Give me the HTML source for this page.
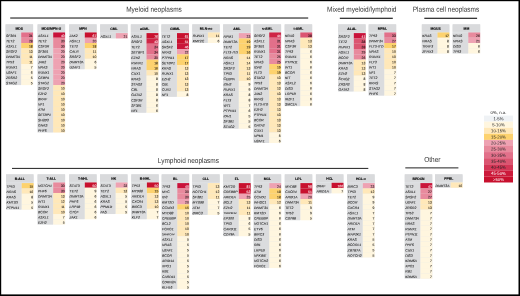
<!DOCTYPE html>
<html lang="en"><head><meta charset="utf-8"><title>Mutation frequencies across hematologic neoplasms</title>
<style>
html,body{margin:0;padding:0;background:#000;}
body{width:520px;height:296px;overflow:hidden;}
svg{display:block;position:absolute;left:0;top:0;}
text{font-family:"Liberation Sans",sans-serif;fill:#222;text-rendering:geometricPrecision;}
.T{font-size:7.35px;text-anchor:middle;fill:#333;}
.h{font-size:3.4px;font-weight:bold;text-anchor:middle;fill:#000;stroke:#000;stroke-width:.12px;}
.g{font-size:3.4px;font-style:italic;fill:#111;stroke:#111;stroke-width:.05px;}
.v{font-size:3.4px;text-anchor:end;fill:#111;stroke:#111;stroke-width:.06px;}
.l{font-size:4.3px;text-anchor:middle;fill:#222;stroke-width:0;}
.w{fill:#fff;stroke:#fff;}
</style></head><body>
<svg width="520" height="296" viewBox="0 0 520 296">
<rect x="1.20" y="1.20" width="517.30" height="293.20" fill="#ffffff"/>
<rect x="10.20" y="17.40" width="298.00" height="1.25" fill="#3a3a3a"/>
<rect x="339.80" y="17.70" width="53.00" height="1.20" fill="#222"/>
<rect x="424.30" y="17.70" width="52.80" height="1.20" fill="#222"/>
<rect x="12.00" y="167.90" width="356.30" height="1.00" fill="#222"/>
<rect x="405.30" y="167.20" width="53.10" height="1.30" fill="#555"/>
<rect x="5.50" y="25.15" width="27.60" height="59.65" fill="#e3e6e9"/>
<rect x="5.50" y="24.15" width="27.60" height="7.70" fill="#d9dadc"/>
<rect x="5.50" y="32.45" width="15.50" height="52.65" fill="#dbdcde"/>
<rect x="21.20" y="32.45" width="11.90" height="5.28" fill="#e2708a"/>
<rect x="21.20" y="37.72" width="11.90" height="5.28" fill="#e88a9d"/>
<rect x="21.20" y="42.98" width="11.90" height="5.28" fill="#fdd26e"/>
<rect x="21.20" y="48.25" width="11.90" height="5.28" fill="#ffe8b9"/>
<rect x="21.20" y="53.51" width="11.90" height="5.28" fill="#ffe8b9"/>
<rect x="21.20" y="58.78" width="11.90" height="5.28" fill="#ffe8b9"/>
<rect x="21.20" y="64.04" width="11.90" height="5.28" fill="#fff6df"/>
<rect x="21.20" y="69.31" width="11.90" height="5.28" fill="#fff6df"/>
<rect x="21.20" y="74.57" width="11.90" height="5.28" fill="#fff6df"/>
<rect x="21.20" y="79.84" width="11.90" height="5.28" fill="#fff6df"/>
<rect x="37.50" y="25.15" width="27.60" height="107.03" fill="#e3e6e9"/>
<rect x="37.50" y="24.15" width="27.60" height="7.70" fill="#d9dadc"/>
<rect x="37.50" y="32.45" width="15.50" height="100.03" fill="#dbdcde"/>
<rect x="53.20" y="32.45" width="11.90" height="5.28" fill="#c9123a"/>
<rect x="53.20" y="37.72" width="11.90" height="5.28" fill="#e88a9d"/>
<rect x="53.20" y="42.98" width="11.90" height="5.28" fill="#e88a9d"/>
<rect x="53.20" y="48.25" width="11.90" height="5.28" fill="#eea2b2"/>
<rect x="53.20" y="53.51" width="11.90" height="5.28" fill="#eea2b2"/>
<rect x="53.20" y="58.78" width="11.90" height="5.28" fill="#eea2b2"/>
<rect x="53.20" y="64.04" width="11.90" height="5.28" fill="#eea2b2"/>
<rect x="53.20" y="69.31" width="11.90" height="5.28" fill="#eea2b2"/>
<rect x="53.20" y="74.57" width="11.90" height="5.28" fill="#eea2b2"/>
<rect x="53.20" y="79.84" width="11.90" height="5.28" fill="#eea2b2"/>
<rect x="53.20" y="85.10" width="11.90" height="5.28" fill="#ffe8b9"/>
<rect x="53.20" y="90.37" width="11.90" height="5.28" fill="#ffe8b9"/>
<rect x="53.20" y="95.63" width="11.90" height="5.28" fill="#ffe8b9"/>
<rect x="53.20" y="100.89" width="11.90" height="5.28" fill="#ffe8b9"/>
<rect x="53.20" y="106.16" width="11.90" height="5.28" fill="#ffe8b9"/>
<rect x="53.20" y="111.42" width="11.90" height="5.28" fill="#ffe8b9"/>
<rect x="53.20" y="116.69" width="11.90" height="5.28" fill="#ffe8b9"/>
<rect x="53.20" y="121.95" width="11.90" height="5.28" fill="#ffe8b9"/>
<rect x="53.20" y="127.22" width="11.90" height="5.28" fill="#ffe8b9"/>
<rect x="69.10" y="25.15" width="27.60" height="43.86" fill="#e3e6e9"/>
<rect x="69.10" y="24.15" width="27.60" height="7.70" fill="#d9dadc"/>
<rect x="69.10" y="32.45" width="15.50" height="36.85" fill="#dbdcde"/>
<rect x="84.80" y="32.45" width="11.90" height="5.28" fill="#c8102e"/>
<rect x="84.80" y="37.72" width="11.90" height="5.28" fill="#eea2b2"/>
<rect x="84.80" y="42.98" width="11.90" height="5.28" fill="#fdd26e"/>
<rect x="84.80" y="48.25" width="11.90" height="5.28" fill="#ffe8b9"/>
<rect x="84.80" y="53.51" width="11.90" height="5.28" fill="#ffe8b9"/>
<rect x="84.80" y="58.78" width="11.90" height="5.28" fill="#fff6df"/>
<rect x="84.80" y="64.04" width="11.90" height="5.28" fill="#fff6df"/>
<rect x="100.10" y="25.15" width="27.60" height="12.96" fill="#e3e6e9"/>
<rect x="100.10" y="24.15" width="27.60" height="8.40" fill="#d9dadc"/>
<rect x="100.10" y="33.10" width="15.50" height="5.31" fill="#dbdcde"/>
<rect x="115.80" y="33.10" width="11.90" height="5.33" fill="#eea2b2"/>
<rect x="130.80" y="25.15" width="27.60" height="87.30" fill="#e3e6e9"/>
<rect x="130.80" y="24.15" width="27.60" height="8.40" fill="#d9dadc"/>
<rect x="130.80" y="33.10" width="15.50" height="79.65" fill="#dbdcde"/>
<rect x="146.50" y="33.10" width="11.90" height="5.33" fill="#c8102e"/>
<rect x="146.50" y="38.41" width="11.90" height="5.33" fill="#cf2546"/>
<rect x="146.50" y="43.72" width="11.90" height="5.33" fill="#e2708a"/>
<rect x="146.50" y="49.03" width="11.90" height="5.33" fill="#e2708a"/>
<rect x="146.50" y="54.34" width="11.90" height="5.33" fill="#e88a9d"/>
<rect x="146.50" y="59.65" width="11.90" height="5.33" fill="#fdd26e"/>
<rect x="146.50" y="64.96" width="11.90" height="5.33" fill="#fdd26e"/>
<rect x="146.50" y="70.27" width="11.90" height="5.33" fill="#ffe8b9"/>
<rect x="146.50" y="75.58" width="11.90" height="5.33" fill="#fff6df"/>
<rect x="146.50" y="80.89" width="11.90" height="5.33" fill="#fff6df"/>
<rect x="146.50" y="86.20" width="11.90" height="5.33" fill="#fff6df"/>
<rect x="146.50" y="91.51" width="11.90" height="5.33" fill="#fff6df"/>
<rect x="146.50" y="96.82" width="11.90" height="5.33" fill="#fff6df"/>
<rect x="146.50" y="102.13" width="11.90" height="5.33" fill="#fff6df"/>
<rect x="146.50" y="107.44" width="11.90" height="5.33" fill="#fff6df"/>
<rect x="161.30" y="25.15" width="27.60" height="71.37" fill="#e3e6e9"/>
<rect x="161.30" y="24.15" width="27.60" height="8.40" fill="#d9dadc"/>
<rect x="161.30" y="33.10" width="15.50" height="63.72" fill="#dbdcde"/>
<rect x="177.00" y="33.10" width="11.90" height="5.33" fill="#c8102e"/>
<rect x="177.00" y="38.41" width="11.90" height="5.33" fill="#c8102e"/>
<rect x="177.00" y="43.72" width="11.90" height="5.33" fill="#ca153a"/>
<rect x="177.00" y="49.03" width="11.90" height="5.33" fill="#eea2b2"/>
<rect x="177.00" y="54.34" width="11.90" height="5.33" fill="#fdd26e"/>
<rect x="177.00" y="59.65" width="11.90" height="5.33" fill="#fdd26e"/>
<rect x="177.00" y="64.96" width="11.90" height="5.33" fill="#ffe8b9"/>
<rect x="177.00" y="70.27" width="11.90" height="5.33" fill="#ffe8b9"/>
<rect x="177.00" y="75.58" width="11.90" height="5.33" fill="#ffe8b9"/>
<rect x="177.00" y="80.89" width="11.90" height="5.33" fill="#ffe8b9"/>
<rect x="177.00" y="86.20" width="11.90" height="5.33" fill="#ffe8b9"/>
<rect x="177.00" y="91.51" width="11.90" height="5.33" fill="#fff6df"/>
<rect x="192.20" y="25.15" width="27.60" height="17.53" fill="#e3e6e9"/>
<rect x="192.20" y="24.15" width="27.60" height="7.70" fill="#d9dadc"/>
<rect x="192.20" y="32.45" width="15.50" height="10.53" fill="#dbdcde"/>
<rect x="207.90" y="32.45" width="11.90" height="5.28" fill="#ffe8b9"/>
<rect x="207.90" y="37.72" width="11.90" height="5.28" fill="#fff6df"/>
<rect x="223.10" y="25.15" width="27.60" height="103.23" fill="#e3e6e9"/>
<rect x="223.10" y="24.15" width="27.60" height="8.40" fill="#d9dadc"/>
<rect x="223.10" y="33.10" width="15.50" height="95.58" fill="#dbdcde"/>
<rect x="238.80" y="33.10" width="11.90" height="5.33" fill="#eea2b2"/>
<rect x="238.80" y="38.41" width="11.90" height="5.33" fill="#fdd26e"/>
<rect x="238.80" y="43.72" width="11.90" height="5.33" fill="#fdd26e"/>
<rect x="238.80" y="49.03" width="11.90" height="5.33" fill="#fdd26e"/>
<rect x="238.80" y="54.34" width="11.90" height="5.33" fill="#ffe8b9"/>
<rect x="238.80" y="59.65" width="11.90" height="5.33" fill="#ffe8b9"/>
<rect x="238.80" y="64.96" width="11.90" height="5.33" fill="#ffe8b9"/>
<rect x="238.80" y="70.27" width="11.90" height="5.33" fill="#ffe8b9"/>
<rect x="238.80" y="75.58" width="11.90" height="5.33" fill="#ffe8b9"/>
<rect x="238.80" y="80.89" width="11.90" height="5.33" fill="#fff6df"/>
<rect x="238.80" y="86.20" width="11.90" height="5.33" fill="#fff6df"/>
<rect x="238.80" y="91.51" width="11.90" height="5.33" fill="#fff6df"/>
<rect x="238.80" y="96.82" width="11.90" height="5.33" fill="#fff6df"/>
<rect x="238.80" y="102.13" width="11.90" height="5.33" fill="#fff6df"/>
<rect x="238.80" y="107.44" width="11.90" height="5.33" fill="#fff6df"/>
<rect x="238.80" y="112.75" width="11.90" height="5.33" fill="#fff6df"/>
<rect x="238.80" y="118.06" width="11.90" height="5.33" fill="#fff6df"/>
<rect x="238.80" y="123.37" width="11.90" height="5.33" fill="#fff6df"/>
<rect x="253.50" y="25.15" width="27.60" height="117.56" fill="#e3e6e9"/>
<rect x="253.50" y="24.15" width="27.60" height="7.70" fill="#d9dadc"/>
<rect x="253.50" y="32.45" width="15.50" height="110.56" fill="#dbdcde"/>
<rect x="269.20" y="32.45" width="11.90" height="5.28" fill="#cf2546"/>
<rect x="269.20" y="37.72" width="11.90" height="5.28" fill="#e2708a"/>
<rect x="269.20" y="42.98" width="11.90" height="5.28" fill="#e2708a"/>
<rect x="269.20" y="48.25" width="11.90" height="5.28" fill="#e2708a"/>
<rect x="269.20" y="53.51" width="11.90" height="5.28" fill="#e88a9d"/>
<rect x="269.20" y="58.78" width="11.90" height="5.28" fill="#e88a9d"/>
<rect x="269.20" y="64.04" width="11.90" height="5.28" fill="#fdd26e"/>
<rect x="269.20" y="69.31" width="11.90" height="5.28" fill="#fdd26e"/>
<rect x="269.20" y="74.57" width="11.90" height="5.28" fill="#ffe8b9"/>
<rect x="269.20" y="79.84" width="11.90" height="5.28" fill="#ffe8b9"/>
<rect x="269.20" y="85.10" width="11.90" height="5.28" fill="#ffe8b9"/>
<rect x="269.20" y="90.37" width="11.90" height="5.28" fill="#ffe8b9"/>
<rect x="269.20" y="95.63" width="11.90" height="5.28" fill="#ffe8b9"/>
<rect x="269.20" y="100.89" width="11.90" height="5.28" fill="#ffe8b9"/>
<rect x="269.20" y="106.16" width="11.90" height="5.28" fill="#ffe8b9"/>
<rect x="269.20" y="111.42" width="11.90" height="5.28" fill="#ffe8b9"/>
<rect x="269.20" y="116.69" width="11.90" height="5.28" fill="#ffe8b9"/>
<rect x="269.20" y="121.95" width="11.90" height="5.28" fill="#ffe8b9"/>
<rect x="269.20" y="127.22" width="11.90" height="5.28" fill="#ffe8b9"/>
<rect x="269.20" y="132.49" width="11.90" height="5.28" fill="#fff6df"/>
<rect x="269.20" y="137.75" width="11.90" height="5.28" fill="#fff6df"/>
<rect x="284.60" y="25.15" width="27.60" height="80.71" fill="#e3e6e9"/>
<rect x="284.60" y="24.15" width="27.60" height="7.70" fill="#d9dadc"/>
<rect x="284.60" y="32.45" width="15.50" height="73.71" fill="#dbdcde"/>
<rect x="300.30" y="32.45" width="11.90" height="5.28" fill="#db5571"/>
<rect x="300.30" y="37.72" width="11.90" height="5.28" fill="#ffe8b9"/>
<rect x="300.30" y="42.98" width="11.90" height="5.28" fill="#ffe8b9"/>
<rect x="300.30" y="48.25" width="11.90" height="5.28" fill="#fff6df"/>
<rect x="300.30" y="53.51" width="11.90" height="5.28" fill="#fff6df"/>
<rect x="300.30" y="58.78" width="11.90" height="5.28" fill="#fff6df"/>
<rect x="300.30" y="64.04" width="11.90" height="5.28" fill="#fff6df"/>
<rect x="300.30" y="69.31" width="11.90" height="5.28" fill="#fff6df"/>
<rect x="300.30" y="74.57" width="11.90" height="5.28" fill="#fff6df"/>
<rect x="300.30" y="79.84" width="11.90" height="5.28" fill="#fff6df"/>
<rect x="300.30" y="85.10" width="11.90" height="5.28" fill="#fff6df"/>
<rect x="300.30" y="90.37" width="11.90" height="5.28" fill="#fff6df"/>
<rect x="300.30" y="95.63" width="11.90" height="5.28" fill="#fff6df"/>
<rect x="300.30" y="100.89" width="11.90" height="5.28" fill="#fff6df"/>
<rect x="338.10" y="25.15" width="27.60" height="66.06" fill="#e3e6e9"/>
<rect x="338.10" y="24.15" width="27.60" height="8.40" fill="#d9dadc"/>
<rect x="338.10" y="33.10" width="15.50" height="58.41" fill="#dbdcde"/>
<rect x="353.80" y="33.10" width="11.90" height="5.33" fill="#c9123a"/>
<rect x="353.80" y="38.41" width="11.90" height="5.33" fill="#db5571"/>
<rect x="353.80" y="43.72" width="11.90" height="5.33" fill="#db5571"/>
<rect x="353.80" y="49.03" width="11.90" height="5.33" fill="#e88a9d"/>
<rect x="353.80" y="54.34" width="11.90" height="5.33" fill="#e88a9d"/>
<rect x="353.80" y="59.65" width="11.90" height="5.33" fill="#ffe8b9"/>
<rect x="353.80" y="64.96" width="11.90" height="5.33" fill="#ffe8b9"/>
<rect x="353.80" y="70.27" width="11.90" height="5.33" fill="#ffe8b9"/>
<rect x="353.80" y="75.58" width="11.90" height="5.33" fill="#fff6df"/>
<rect x="353.80" y="80.89" width="11.90" height="5.33" fill="#fff6df"/>
<rect x="353.80" y="86.20" width="11.90" height="5.33" fill="#fff6df"/>
<rect x="368.60" y="25.15" width="27.60" height="70.18" fill="#e3e6e9"/>
<rect x="368.60" y="24.15" width="27.60" height="7.70" fill="#d9dadc"/>
<rect x="368.60" y="32.45" width="15.50" height="63.18" fill="#dbdcde"/>
<rect x="384.30" y="32.45" width="11.90" height="5.28" fill="#e2708a"/>
<rect x="384.30" y="37.72" width="11.90" height="5.28" fill="#e88a9d"/>
<rect x="384.30" y="42.98" width="11.90" height="5.28" fill="#fdd26e"/>
<rect x="384.30" y="48.25" width="11.90" height="5.28" fill="#ffe8b9"/>
<rect x="384.30" y="53.51" width="11.90" height="5.28" fill="#ffe8b9"/>
<rect x="384.30" y="58.78" width="11.90" height="5.28" fill="#ffe8b9"/>
<rect x="384.30" y="64.04" width="11.90" height="5.28" fill="#ffe8b9"/>
<rect x="384.30" y="69.31" width="11.90" height="5.28" fill="#fff6df"/>
<rect x="384.30" y="74.57" width="11.90" height="5.28" fill="#fff6df"/>
<rect x="384.30" y="79.84" width="11.90" height="5.28" fill="#fff6df"/>
<rect x="384.30" y="85.10" width="11.90" height="5.28" fill="#fff6df"/>
<rect x="384.30" y="90.37" width="11.90" height="5.28" fill="#fff6df"/>
<rect x="421.80" y="25.15" width="27.60" height="28.06" fill="#e3e6e9"/>
<rect x="421.80" y="24.15" width="27.60" height="7.70" fill="#d9dadc"/>
<rect x="421.80" y="32.45" width="15.50" height="21.06" fill="#dbdcde"/>
<rect x="437.50" y="32.45" width="11.90" height="5.28" fill="#fdd26e"/>
<rect x="437.50" y="37.72" width="11.90" height="5.28" fill="#fff6df"/>
<rect x="437.50" y="42.98" width="11.90" height="5.28" fill="#fff6df"/>
<rect x="437.50" y="48.25" width="11.90" height="5.28" fill="#fff6df"/>
<rect x="452.60" y="25.15" width="27.60" height="28.06" fill="#e3e6e9"/>
<rect x="452.60" y="24.15" width="27.60" height="7.70" fill="#d9dadc"/>
<rect x="452.60" y="32.45" width="15.50" height="21.06" fill="#dbdcde"/>
<rect x="468.30" y="32.45" width="11.90" height="5.28" fill="#e88a9d"/>
<rect x="468.30" y="37.72" width="11.90" height="5.28" fill="#eea2b2"/>
<rect x="468.30" y="42.98" width="11.90" height="5.28" fill="#fff6df"/>
<rect x="468.30" y="48.25" width="11.90" height="5.28" fill="#fff6df"/>
<rect x="6.00" y="175.15" width="27.60" height="34.20" fill="#e3e6e9"/>
<rect x="6.00" y="174.15" width="27.60" height="8.40" fill="#d9dadc"/>
<rect x="6.00" y="183.10" width="15.50" height="26.55" fill="#dbdcde"/>
<rect x="21.70" y="183.10" width="11.90" height="5.33" fill="#fdd26e"/>
<rect x="21.70" y="188.41" width="11.90" height="5.33" fill="#ffe8b9"/>
<rect x="21.70" y="193.72" width="11.90" height="5.33" fill="#fff6df"/>
<rect x="21.70" y="199.03" width="11.90" height="5.33" fill="#fff6df"/>
<rect x="21.70" y="204.34" width="11.90" height="5.33" fill="#fff6df"/>
<rect x="37.50" y="175.15" width="27.60" height="49.12" fill="#e3e6e9"/>
<rect x="37.50" y="174.15" width="27.60" height="7.70" fill="#d9dadc"/>
<rect x="37.50" y="182.45" width="15.50" height="42.12" fill="#dbdcde"/>
<rect x="53.20" y="182.45" width="11.90" height="5.28" fill="#e88a9d"/>
<rect x="53.20" y="187.72" width="11.90" height="5.28" fill="#e88a9d"/>
<rect x="53.20" y="192.98" width="11.90" height="5.28" fill="#ffe8b9"/>
<rect x="53.20" y="198.25" width="11.90" height="5.28" fill="#ffe8b9"/>
<rect x="53.20" y="203.51" width="11.90" height="5.28" fill="#ffe8b9"/>
<rect x="53.20" y="208.78" width="11.90" height="5.28" fill="#ffe8b9"/>
<rect x="53.20" y="214.04" width="11.90" height="5.28" fill="#fff6df"/>
<rect x="53.20" y="219.31" width="11.90" height="5.28" fill="#fff6df"/>
<rect x="69.10" y="175.15" width="27.60" height="43.86" fill="#e3e6e9"/>
<rect x="69.10" y="174.15" width="27.60" height="7.70" fill="#d9dadc"/>
<rect x="69.10" y="182.45" width="15.50" height="36.85" fill="#dbdcde"/>
<rect x="84.80" y="182.45" width="11.90" height="5.28" fill="#c8102e"/>
<rect x="84.80" y="187.72" width="11.90" height="5.28" fill="#fff6df"/>
<rect x="84.80" y="192.98" width="11.90" height="5.28" fill="#fff6df"/>
<rect x="84.80" y="198.25" width="11.90" height="5.28" fill="#fff6df"/>
<rect x="84.80" y="203.51" width="11.90" height="5.28" fill="#fff6df"/>
<rect x="84.80" y="208.78" width="11.90" height="5.28" fill="#fff6df"/>
<rect x="84.80" y="214.04" width="11.90" height="5.28" fill="#fff6df"/>
<rect x="100.00" y="175.15" width="27.60" height="38.59" fill="#e3e6e9"/>
<rect x="100.00" y="174.15" width="27.60" height="7.70" fill="#d9dadc"/>
<rect x="100.00" y="182.45" width="15.50" height="31.59" fill="#dbdcde"/>
<rect x="115.70" y="182.45" width="11.90" height="5.28" fill="#eea2b2"/>
<rect x="115.70" y="187.72" width="11.90" height="5.28" fill="#ffe8b9"/>
<rect x="115.70" y="192.98" width="11.90" height="5.28" fill="#fff6df"/>
<rect x="115.70" y="198.25" width="11.90" height="5.28" fill="#fff6df"/>
<rect x="115.70" y="203.51" width="11.90" height="5.28" fill="#fff6df"/>
<rect x="115.70" y="208.78" width="11.90" height="5.28" fill="#fff6df"/>
<rect x="131.20" y="175.15" width="27.60" height="43.86" fill="#e3e6e9"/>
<rect x="131.20" y="174.15" width="27.60" height="7.70" fill="#d9dadc"/>
<rect x="131.20" y="182.45" width="15.50" height="36.85" fill="#dbdcde"/>
<rect x="146.90" y="182.45" width="11.90" height="5.28" fill="#c8102e"/>
<rect x="146.90" y="187.72" width="11.90" height="5.28" fill="#fdd26e"/>
<rect x="146.90" y="192.98" width="11.90" height="5.28" fill="#ffe8b9"/>
<rect x="146.90" y="198.25" width="11.90" height="5.28" fill="#ffe8b9"/>
<rect x="146.90" y="203.51" width="11.90" height="5.28" fill="#ffe8b9"/>
<rect x="146.90" y="208.78" width="11.90" height="5.28" fill="#fff6df"/>
<rect x="146.90" y="214.04" width="11.90" height="5.28" fill="#fff6df"/>
<rect x="161.60" y="175.15" width="27.60" height="113.85" fill="#e3e6e9"/>
<rect x="161.60" y="174.15" width="27.60" height="8.40" fill="#d9dadc"/>
<rect x="161.60" y="183.10" width="15.50" height="106.20" fill="#dbdcde"/>
<rect x="177.30" y="183.10" width="11.90" height="5.33" fill="#c9123a"/>
<rect x="177.30" y="188.41" width="11.90" height="5.33" fill="#e88a9d"/>
<rect x="177.30" y="193.72" width="11.90" height="5.33" fill="#e88a9d"/>
<rect x="177.30" y="199.03" width="11.90" height="5.33" fill="#eea2b2"/>
<rect x="177.30" y="204.34" width="11.90" height="5.33" fill="#fdd26e"/>
<rect x="177.30" y="209.65" width="11.90" height="5.33" fill="#ffe8b9"/>
<rect x="177.30" y="214.96" width="11.90" height="5.33" fill="#ffe8b9"/>
<rect x="177.30" y="220.27" width="11.90" height="5.33" fill="#ffe8b9"/>
<rect x="177.30" y="225.58" width="11.90" height="5.33" fill="#ffe8b9"/>
<rect x="177.30" y="230.89" width="11.90" height="5.33" fill="#ffe8b9"/>
<rect x="177.30" y="236.20" width="11.90" height="5.33" fill="#fff6df"/>
<rect x="177.30" y="241.51" width="11.90" height="5.33" fill="#fff6df"/>
<rect x="177.30" y="246.82" width="11.90" height="5.33" fill="#fff6df"/>
<rect x="177.30" y="252.13" width="11.90" height="5.33" fill="#fff6df"/>
<rect x="177.30" y="257.44" width="11.90" height="5.33" fill="#fff6df"/>
<rect x="177.30" y="262.75" width="11.90" height="5.33" fill="#fff6df"/>
<rect x="177.30" y="268.06" width="11.90" height="5.33" fill="#fff6df"/>
<rect x="177.30" y="273.37" width="11.90" height="5.33" fill="#fff6df"/>
<rect x="177.30" y="278.68" width="11.90" height="5.33" fill="#fff6df"/>
<rect x="177.30" y="283.99" width="11.90" height="5.33" fill="#fff6df"/>
<rect x="192.10" y="175.15" width="27.60" height="39.51" fill="#e3e6e9"/>
<rect x="192.10" y="174.15" width="27.60" height="8.40" fill="#d9dadc"/>
<rect x="192.10" y="183.10" width="15.50" height="31.86" fill="#dbdcde"/>
<rect x="207.80" y="183.10" width="11.90" height="5.33" fill="#ffe8b9"/>
<rect x="207.80" y="188.41" width="11.90" height="5.33" fill="#ffe8b9"/>
<rect x="207.80" y="193.72" width="11.90" height="5.33" fill="#ffe8b9"/>
<rect x="207.80" y="199.03" width="11.90" height="5.33" fill="#fff6df"/>
<rect x="207.80" y="204.34" width="11.90" height="5.33" fill="#fff6df"/>
<rect x="207.80" y="209.65" width="11.90" height="5.33" fill="#fff6df"/>
<rect x="223.10" y="175.15" width="27.60" height="60.75" fill="#e3e6e9"/>
<rect x="223.10" y="174.15" width="27.60" height="8.40" fill="#d9dadc"/>
<rect x="223.10" y="183.10" width="15.50" height="53.10" fill="#dbdcde"/>
<rect x="238.80" y="183.10" width="11.90" height="5.33" fill="#c8102e"/>
<rect x="238.80" y="188.41" width="11.90" height="5.33" fill="#c8102e"/>
<rect x="238.80" y="193.72" width="11.90" height="5.33" fill="#eea2b2"/>
<rect x="238.80" y="199.03" width="11.90" height="5.33" fill="#ffe8b9"/>
<rect x="238.80" y="204.34" width="11.90" height="5.33" fill="#ffe8b9"/>
<rect x="238.80" y="209.65" width="11.90" height="5.33" fill="#ffe8b9"/>
<rect x="238.80" y="214.96" width="11.90" height="5.33" fill="#fff6df"/>
<rect x="238.80" y="220.27" width="11.90" height="5.33" fill="#fff6df"/>
<rect x="238.80" y="225.58" width="11.90" height="5.33" fill="#fff6df"/>
<rect x="238.80" y="230.89" width="11.90" height="5.33" fill="#fff6df"/>
<rect x="253.60" y="175.15" width="27.60" height="92.61" fill="#e3e6e9"/>
<rect x="253.60" y="174.15" width="27.60" height="8.40" fill="#d9dadc"/>
<rect x="253.60" y="183.10" width="15.50" height="84.96" fill="#dbdcde"/>
<rect x="269.30" y="183.10" width="11.90" height="5.33" fill="#eea2b2"/>
<rect x="269.30" y="188.41" width="11.90" height="5.33" fill="#fdd26e"/>
<rect x="269.30" y="193.72" width="11.90" height="5.33" fill="#fdd26e"/>
<rect x="269.30" y="199.03" width="11.90" height="5.33" fill="#ffe8b9"/>
<rect x="269.30" y="204.34" width="11.90" height="5.33" fill="#fff6df"/>
<rect x="269.30" y="209.65" width="11.90" height="5.33" fill="#fff6df"/>
<rect x="269.30" y="214.96" width="11.90" height="5.33" fill="#fff6df"/>
<rect x="269.30" y="220.27" width="11.90" height="5.33" fill="#fff6df"/>
<rect x="269.30" y="225.58" width="11.90" height="5.33" fill="#fff6df"/>
<rect x="269.30" y="230.89" width="11.90" height="5.33" fill="#fff6df"/>
<rect x="269.30" y="236.20" width="11.90" height="5.33" fill="#fff6df"/>
<rect x="269.30" y="241.51" width="11.90" height="5.33" fill="#fff6df"/>
<rect x="269.30" y="246.82" width="11.90" height="5.33" fill="#fff6df"/>
<rect x="269.30" y="252.13" width="11.90" height="5.33" fill="#fff6df"/>
<rect x="269.30" y="257.44" width="11.90" height="5.33" fill="#fff6df"/>
<rect x="269.30" y="262.75" width="11.90" height="5.33" fill="#fff6df"/>
<rect x="284.70" y="175.15" width="27.60" height="44.82" fill="#e3e6e9"/>
<rect x="284.70" y="174.15" width="27.60" height="8.40" fill="#d9dadc"/>
<rect x="284.70" y="183.10" width="15.50" height="37.17" fill="#dbdcde"/>
<rect x="300.40" y="183.10" width="11.90" height="5.33" fill="#c8102e"/>
<rect x="300.40" y="188.41" width="11.90" height="5.33" fill="#c8102e"/>
<rect x="300.40" y="193.72" width="11.90" height="5.33" fill="#eea2b2"/>
<rect x="300.40" y="199.03" width="11.90" height="5.33" fill="#ffe8b9"/>
<rect x="300.40" y="204.34" width="11.90" height="5.33" fill="#fff6df"/>
<rect x="300.40" y="209.65" width="11.90" height="5.33" fill="#fff6df"/>
<rect x="300.40" y="214.96" width="11.90" height="5.33" fill="#fff6df"/>
<rect x="315.90" y="175.15" width="27.60" height="17.90" fill="#e3e6e9"/>
<rect x="315.90" y="174.15" width="27.60" height="8.05" fill="#d9dadc"/>
<rect x="315.90" y="182.78" width="15.50" height="10.57" fill="#dbdcde"/>
<rect x="331.60" y="182.78" width="11.90" height="5.31" fill="#c8102e"/>
<rect x="331.60" y="188.06" width="11.90" height="5.31" fill="#fff6df"/>
<rect x="347.10" y="175.15" width="27.60" height="81.99" fill="#e3e6e9"/>
<rect x="347.10" y="174.15" width="27.60" height="8.40" fill="#d9dadc"/>
<rect x="347.10" y="183.10" width="15.50" height="74.34" fill="#dbdcde"/>
<rect x="362.80" y="183.10" width="11.90" height="5.33" fill="#eea2b2"/>
<rect x="362.80" y="188.41" width="11.90" height="5.33" fill="#ffe8b9"/>
<rect x="362.80" y="193.72" width="11.90" height="5.33" fill="#fff6df"/>
<rect x="362.80" y="199.03" width="11.90" height="5.33" fill="#fff6df"/>
<rect x="362.80" y="204.34" width="11.90" height="5.33" fill="#fff6df"/>
<rect x="362.80" y="209.65" width="11.90" height="5.33" fill="#fff6df"/>
<rect x="362.80" y="214.96" width="11.90" height="5.33" fill="#fff6df"/>
<rect x="362.80" y="220.27" width="11.90" height="5.33" fill="#fff6df"/>
<rect x="362.80" y="225.58" width="11.90" height="5.33" fill="#fff6df"/>
<rect x="362.80" y="230.89" width="11.90" height="5.33" fill="#fff6df"/>
<rect x="362.80" y="236.20" width="11.90" height="5.33" fill="#fff6df"/>
<rect x="362.80" y="241.51" width="11.90" height="5.33" fill="#fff6df"/>
<rect x="362.80" y="246.82" width="11.90" height="5.33" fill="#fff6df"/>
<rect x="362.80" y="252.13" width="11.90" height="5.33" fill="#fff6df"/>
<rect x="404.70" y="175.15" width="27.60" height="103.23" fill="#e3e6e9"/>
<rect x="404.70" y="174.15" width="27.60" height="8.40" fill="#d9dadc"/>
<rect x="404.70" y="183.10" width="15.50" height="95.58" fill="#dbdcde"/>
<rect x="420.40" y="183.10" width="11.90" height="5.33" fill="#ca153a"/>
<rect x="420.40" y="188.41" width="11.90" height="5.33" fill="#e88a9d"/>
<rect x="420.40" y="193.72" width="11.90" height="5.33" fill="#e88a9d"/>
<rect x="420.40" y="199.03" width="11.90" height="5.33" fill="#ffe8b9"/>
<rect x="420.40" y="204.34" width="11.90" height="5.33" fill="#ffe8b9"/>
<rect x="420.40" y="209.65" width="11.90" height="5.33" fill="#fff6df"/>
<rect x="420.40" y="214.96" width="11.90" height="5.33" fill="#fff6df"/>
<rect x="420.40" y="220.27" width="11.90" height="5.33" fill="#fff6df"/>
<rect x="420.40" y="225.58" width="11.90" height="5.33" fill="#fff6df"/>
<rect x="420.40" y="230.89" width="11.90" height="5.33" fill="#fff6df"/>
<rect x="420.40" y="236.20" width="11.90" height="5.33" fill="#fff6df"/>
<rect x="420.40" y="241.51" width="11.90" height="5.33" fill="#fff6df"/>
<rect x="420.40" y="246.82" width="11.90" height="5.33" fill="#fff6df"/>
<rect x="420.40" y="252.13" width="11.90" height="5.33" fill="#fff6df"/>
<rect x="420.40" y="257.44" width="11.90" height="5.33" fill="#fff6df"/>
<rect x="420.40" y="262.75" width="11.90" height="5.33" fill="#fff6df"/>
<rect x="420.40" y="268.06" width="11.90" height="5.33" fill="#fff6df"/>
<rect x="420.40" y="273.37" width="11.90" height="5.33" fill="#fff6df"/>
<rect x="435.00" y="175.15" width="27.60" height="12.27" fill="#e3e6e9"/>
<rect x="435.00" y="174.15" width="27.60" height="7.70" fill="#d9dadc"/>
<rect x="435.00" y="182.45" width="15.50" height="5.26" fill="#dbdcde"/>
<rect x="450.70" y="182.45" width="11.90" height="5.28" fill="#ffe8b9"/>
<rect x="484.00" y="109.50" width="29.00" height="6.10" fill="#ffffff"/>
<rect x="484.00" y="115.58" width="29.00" height="6.10" fill="#eff2f5"/>
<rect x="484.00" y="121.66" width="29.00" height="6.10" fill="#fff6df"/>
<rect x="484.00" y="127.74" width="29.00" height="6.10" fill="#ffe8b9"/>
<rect x="484.00" y="133.82" width="29.00" height="6.10" fill="#fdd26e"/>
<rect x="484.00" y="139.90" width="29.00" height="6.10" fill="#eea2b2"/>
<rect x="484.00" y="145.98" width="29.00" height="6.10" fill="#e88a9d"/>
<rect x="484.00" y="152.06" width="29.00" height="6.10" fill="#e2708a"/>
<rect x="484.00" y="158.14" width="29.00" height="6.10" fill="#db5571"/>
<rect x="484.00" y="164.22" width="29.00" height="6.10" fill="#d33656"/>
<rect x="484.00" y="170.30" width="29.00" height="6.10" fill="#cc1a3b"/>
<rect x="484.00" y="176.38" width="29.00" height="6.10" fill="#c8102e"/>
<text transform="translate(154.00 11.80) rotate(.05) scale(0.885 1)" class="T">Myeloid neoplasms</text>
<text transform="translate(361.80 11.80) rotate(.05) scale(0.885 1)" class="T">Mixed myeloid/lymphoid</text>
<text transform="translate(446.00 11.80) rotate(.05) scale(0.885 1)" class="T">Plasma cell neoplasms</text>
<text transform="translate(188.40 163.00) rotate(.05) scale(0.885 1)" class="T">Lymphoid neoplasms</text>
<text transform="translate(432.30 162.00) rotate(.05) scale(0.885 1)" class="T">Other</text>
<text x="19.30" y="29.70" transform="rotate(.05 19.3 29.7)" class="h">MDS</text>
<text x="6.00" y="36.98" transform="rotate(.05 6.0 37.0)" class="g">SF3B1</text>
<text x="32.70" y="36.98" transform="rotate(.05 32.7 37.0)" class="v">31</text>
<text x="6.00" y="42.25" transform="rotate(.05 6.0 42.2)" class="g">TET2</text>
<text x="32.70" y="42.25" transform="rotate(.05 32.7 42.2)" class="v">28</text>
<text x="6.00" y="47.51" transform="rotate(.05 6.0 47.5)" class="g">ASXL1</text>
<text x="32.70" y="47.51" transform="rotate(.05 32.7 47.5)" class="v">18</text>
<text x="6.00" y="52.78" transform="rotate(.05 6.0 52.8)" class="g">SRSF2</text>
<text x="32.70" y="52.78" transform="rotate(.05 32.7 52.8)" class="v">13</text>
<text x="6.00" y="58.04" transform="rotate(.05 6.0 58.0)" class="g">DNMT3A</text>
<text x="32.70" y="58.04" transform="rotate(.05 32.7 58.0)" class="v">11</text>
<text x="6.00" y="63.31" transform="rotate(.05 6.0 63.3)" class="g">TP53</text>
<text x="32.70" y="63.31" transform="rotate(.05 32.7 63.3)" class="v">11</text>
<text x="6.00" y="68.57" transform="rotate(.05 6.0 68.6)" class="g">RUNX1</text>
<text x="32.70" y="68.57" transform="rotate(.05 32.7 68.6)" class="v">7</text>
<text x="6.00" y="73.84" transform="rotate(.05 6.0 73.8)" class="g">U2AF1</text>
<text x="32.70" y="73.84" transform="rotate(.05 32.7 73.8)" class="v">6</text>
<text x="6.00" y="79.10" transform="rotate(.05 6.0 79.1)" class="g">ZRSR2</text>
<text x="32.70" y="79.10" transform="rotate(.05 32.7 79.1)" class="v">5</text>
<text x="6.00" y="84.37" transform="rotate(.05 6.0 84.4)" class="g">STAG2</text>
<text x="32.70" y="84.37" transform="rotate(.05 32.7 84.4)" class="v">5</text>
<text x="51.30" y="29.70" transform="rotate(.05 51.3 29.7)" class="h">MDS/MPN-U</text>
<text x="38.00" y="36.98" transform="rotate(.05 38.0 37.0)" class="g">ASXL1</text>
<text x="64.70" y="36.98" transform="rotate(.05 64.7 37.0)" class="v w">40</text>
<text x="38.00" y="42.25" transform="rotate(.05 38.0 42.2)" class="g">TET2</text>
<text x="64.70" y="42.25" transform="rotate(.05 64.7 42.2)" class="v">30</text>
<text x="38.00" y="47.51" transform="rotate(.05 38.0 47.5)" class="g">CSF3R</text>
<text x="64.70" y="47.51" transform="rotate(.05 64.7 47.5)" class="v">30</text>
<text x="38.00" y="52.78" transform="rotate(.05 38.0 52.8)" class="g">SF3B1</text>
<text x="64.70" y="52.78" transform="rotate(.05 64.7 52.8)" class="v">20</text>
<text x="38.00" y="58.04" transform="rotate(.05 38.0 58.0)" class="g">DNMT3A</text>
<text x="64.70" y="58.04" transform="rotate(.05 64.7 58.0)" class="v">20</text>
<text x="38.00" y="63.31" transform="rotate(.05 38.0 63.3)" class="g">JAK2</text>
<text x="64.70" y="63.31" transform="rotate(.05 64.7 63.3)" class="v">20</text>
<text x="38.00" y="68.57" transform="rotate(.05 38.0 68.6)" class="g">NRAS</text>
<text x="64.70" y="68.57" transform="rotate(.05 64.7 68.6)" class="v">20</text>
<text x="38.00" y="73.84" transform="rotate(.05 38.0 73.8)" class="g">RUNX1</text>
<text x="64.70" y="73.84" transform="rotate(.05 64.7 73.8)" class="v">20</text>
<text x="38.00" y="79.10" transform="rotate(.05 38.0 79.1)" class="g">CEBPA</text>
<text x="64.70" y="79.10" transform="rotate(.05 64.7 79.1)" class="v">20</text>
<text x="38.00" y="84.37" transform="rotate(.05 38.0 84.4)" class="g">STAG2</text>
<text x="64.70" y="84.37" transform="rotate(.05 64.7 84.4)" class="v">20</text>
<text x="38.00" y="89.63" transform="rotate(.05 38.0 89.6)" class="g">SRSF2</text>
<text x="64.70" y="89.63" transform="rotate(.05 64.7 89.6)" class="v">10</text>
<text x="38.00" y="94.90" transform="rotate(.05 38.0 94.9)" class="g">EZH2</text>
<text x="64.70" y="94.90" transform="rotate(.05 64.7 94.9)" class="v">10</text>
<text x="38.00" y="100.16" transform="rotate(.05 38.0 100.2)" class="g">BRAF</text>
<text x="64.70" y="100.16" transform="rotate(.05 64.7 100.2)" class="v">10</text>
<text x="38.00" y="105.43" transform="rotate(.05 38.0 105.4)" class="g">NF1</text>
<text x="64.70" y="105.43" transform="rotate(.05 64.7 105.4)" class="v">10</text>
<text x="38.00" y="110.69" transform="rotate(.05 38.0 110.7)" class="g">ATM</text>
<text x="64.70" y="110.69" transform="rotate(.05 64.7 110.7)" class="v">10</text>
<text x="38.00" y="115.96" transform="rotate(.05 38.0 116.0)" class="g">SETBP1</text>
<text x="64.70" y="115.96" transform="rotate(.05 64.7 116.0)" class="v">10</text>
<text x="38.00" y="121.22" transform="rotate(.05 38.0 121.2)" class="g">SH2B3</text>
<text x="64.70" y="121.22" transform="rotate(.05 64.7 121.2)" class="v">10</text>
<text x="38.00" y="126.49" transform="rotate(.05 38.0 126.5)" class="g">GNAS</text>
<text x="64.70" y="126.49" transform="rotate(.05 64.7 126.5)" class="v">10</text>
<text x="38.00" y="131.75" transform="rotate(.05 38.0 131.8)" class="g">PHF6</text>
<text x="64.70" y="131.75" transform="rotate(.05 64.7 131.8)" class="v">10</text>
<text x="82.90" y="29.70" transform="rotate(.05 82.9 29.7)" class="h">MPN</text>
<text x="69.60" y="36.98" transform="rotate(.05 69.6 37.0)" class="g">JAK2</text>
<text x="96.30" y="36.98" transform="rotate(.05 96.3 37.0)" class="v w">67</text>
<text x="69.60" y="42.25" transform="rotate(.05 69.6 42.2)" class="g">ASXL1</text>
<text x="96.30" y="42.25" transform="rotate(.05 96.3 42.2)" class="v">20</text>
<text x="69.60" y="47.51" transform="rotate(.05 69.6 47.5)" class="g">TET2</text>
<text x="96.30" y="47.51" transform="rotate(.05 96.3 47.5)" class="v">18</text>
<text x="69.60" y="52.78" transform="rotate(.05 69.6 52.8)" class="g">CALR</text>
<text x="96.30" y="52.78" transform="rotate(.05 96.3 52.8)" class="v">11</text>
<text x="69.60" y="58.04" transform="rotate(.05 69.6 58.0)" class="g">SRSF2</text>
<text x="96.30" y="58.04" transform="rotate(.05 96.3 58.0)" class="v">10</text>
<text x="69.60" y="63.31" transform="rotate(.05 69.6 63.3)" class="g">DNMT3A</text>
<text x="96.30" y="63.31" transform="rotate(.05 96.3 63.3)" class="v">6</text>
<text x="69.60" y="68.57" transform="rotate(.05 69.6 68.6)" class="g">U2AF1</text>
<text x="96.30" y="68.57" transform="rotate(.05 96.3 68.6)" class="v">5</text>
<text x="113.90" y="30.05" transform="rotate(.05 113.9 30.0)" class="h">CML</text>
<text x="100.60" y="37.66" transform="rotate(.05 100.6 37.7)" class="g">ASXL1</text>
<text x="127.30" y="37.66" transform="rotate(.05 127.3 37.7)" class="v">21</text>
<text x="144.60" y="30.05" transform="rotate(.05 144.6 30.0)" class="h">aCML</text>
<text x="131.30" y="37.66" transform="rotate(.05 131.3 37.7)" class="g">ASXL1</text>
<text x="158.00" y="37.66" transform="rotate(.05 158.0 37.7)" class="v w">76</text>
<text x="131.30" y="42.97" transform="rotate(.05 131.3 43.0)" class="g">SRSF2</text>
<text x="158.00" y="42.97" transform="rotate(.05 158.0 43.0)" class="v w">43</text>
<text x="131.30" y="48.27" transform="rotate(.05 131.3 48.3)" class="g">TET2</text>
<text x="158.00" y="48.27" transform="rotate(.05 158.0 48.3)" class="v">34</text>
<text x="131.30" y="53.59" transform="rotate(.05 131.3 53.6)" class="g">SETBP1</text>
<text x="158.00" y="53.59" transform="rotate(.05 158.0 53.6)" class="v">34</text>
<text x="131.30" y="58.90" transform="rotate(.05 131.3 58.9)" class="g">EZH2</text>
<text x="158.00" y="58.90" transform="rotate(.05 158.0 58.9)" class="v">30</text>
<text x="131.30" y="64.20" transform="rotate(.05 131.3 64.2)" class="g">RUNX1</text>
<text x="158.00" y="64.20" transform="rotate(.05 158.0 64.2)" class="v">18</text>
<text x="131.30" y="69.52" transform="rotate(.05 131.3 69.5)" class="g">NRAS</text>
<text x="158.00" y="69.52" transform="rotate(.05 158.0 69.5)" class="v">16</text>
<text x="131.30" y="74.83" transform="rotate(.05 131.3 74.8)" class="g">CUX1</text>
<text x="158.00" y="74.83" transform="rotate(.05 158.0 74.8)" class="v">10</text>
<text x="131.30" y="80.14" transform="rotate(.05 131.3 80.1)" class="g">KRAS</text>
<text x="158.00" y="80.14" transform="rotate(.05 158.0 80.1)" class="v">8</text>
<text x="131.30" y="85.45" transform="rotate(.05 131.3 85.4)" class="g">STAG2</text>
<text x="158.00" y="85.45" transform="rotate(.05 158.0 85.4)" class="v">8</text>
<text x="131.30" y="90.75" transform="rotate(.05 131.3 90.8)" class="g">CBL</text>
<text x="158.00" y="90.75" transform="rotate(.05 158.0 90.8)" class="v">8</text>
<text x="131.30" y="96.06" transform="rotate(.05 131.3 96.1)" class="g">GATA2</text>
<text x="158.00" y="96.06" transform="rotate(.05 158.0 96.1)" class="v">8</text>
<text x="131.30" y="101.38" transform="rotate(.05 131.3 101.4)" class="g">CSF3R</text>
<text x="158.00" y="101.38" transform="rotate(.05 158.0 101.4)" class="v">8</text>
<text x="131.30" y="106.69" transform="rotate(.05 131.3 106.7)" class="g">SF3B1</text>
<text x="158.00" y="106.69" transform="rotate(.05 158.0 106.7)" class="v">6</text>
<text x="131.30" y="112.00" transform="rotate(.05 131.3 112.0)" class="g">NF1</text>
<text x="158.00" y="112.00" transform="rotate(.05 158.0 112.0)" class="v">6</text>
<text x="175.10" y="30.05" transform="rotate(.05 175.1 30.0)" class="h">CMML</text>
<text x="161.80" y="37.66" transform="rotate(.05 161.8 37.7)" class="g">TET2</text>
<text x="188.50" y="37.66" transform="rotate(.05 188.5 37.7)" class="v w">61</text>
<text x="161.80" y="42.97" transform="rotate(.05 161.8 43.0)" class="g">ASXL1</text>
<text x="188.50" y="42.97" transform="rotate(.05 188.5 43.0)" class="v w">51</text>
<text x="161.80" y="48.27" transform="rotate(.05 161.8 48.3)" class="g">SRSF2</text>
<text x="188.50" y="48.27" transform="rotate(.05 188.5 48.3)" class="v w">46</text>
<text x="161.80" y="53.59" transform="rotate(.05 161.8 53.6)" class="g">NRAS</text>
<text x="188.50" y="53.59" transform="rotate(.05 188.5 53.6)" class="v">22</text>
<text x="161.80" y="58.90" transform="rotate(.05 161.8 58.9)" class="g">PTPN11</text>
<text x="188.50" y="58.90" transform="rotate(.05 188.5 58.9)" class="v">17</text>
<text x="161.80" y="64.20" transform="rotate(.05 161.8 64.2)" class="g">SETBP1</text>
<text x="188.50" y="64.20" transform="rotate(.05 188.5 64.2)" class="v">17</text>
<text x="161.80" y="69.52" transform="rotate(.05 161.8 69.5)" class="g">KRAS</text>
<text x="188.50" y="69.52" transform="rotate(.05 188.5 69.5)" class="v">13</text>
<text x="161.80" y="74.83" transform="rotate(.05 161.8 74.8)" class="g">RUNX1</text>
<text x="188.50" y="74.83" transform="rotate(.05 188.5 74.8)" class="v">13</text>
<text x="161.80" y="80.14" transform="rotate(.05 161.8 80.1)" class="g">EZH2</text>
<text x="188.50" y="80.14" transform="rotate(.05 188.5 80.1)" class="v">13</text>
<text x="161.80" y="85.45" transform="rotate(.05 161.8 85.4)" class="g">CBL</text>
<text x="188.50" y="85.45" transform="rotate(.05 188.5 85.4)" class="v">13</text>
<text x="161.80" y="90.75" transform="rotate(.05 161.8 90.8)" class="g">CUX1</text>
<text x="188.50" y="90.75" transform="rotate(.05 188.5 90.8)" class="v">13</text>
<text x="161.80" y="96.06" transform="rotate(.05 161.8 96.1)" class="g">NF1</text>
<text x="188.50" y="96.06" transform="rotate(.05 188.5 96.1)" class="v">8</text>
<text x="206.00" y="29.70" transform="rotate(.05 206.0 29.7)" class="h">MLN-eo</text>
<text x="192.70" y="36.98" transform="rotate(.05 192.7 37.0)" class="g">RUNX1</text>
<text x="219.40" y="36.98" transform="rotate(.05 219.4 37.0)" class="v">11</text>
<text x="192.70" y="42.25" transform="rotate(.05 192.7 42.2)" class="g">KMT2C</text>
<text x="219.40" y="42.25" transform="rotate(.05 219.4 42.2)" class="v">6</text>
<text x="236.90" y="30.05" transform="rotate(.05 236.9 30.0)" class="h">AML</text>
<text x="223.60" y="37.66" transform="rotate(.05 223.6 37.7)" class="g">NPM1</text>
<text x="250.30" y="37.66" transform="rotate(.05 250.3 37.7)" class="v">23</text>
<text x="223.60" y="42.97" transform="rotate(.05 223.6 43.0)" class="g">DNMT3A</text>
<text x="250.30" y="42.97" transform="rotate(.05 250.3 43.0)" class="v">19</text>
<text x="223.60" y="48.27" transform="rotate(.05 223.6 48.3)" class="g">TET2</text>
<text x="250.30" y="48.27" transform="rotate(.05 250.3 48.3)" class="v">19</text>
<text x="223.60" y="53.59" transform="rotate(.05 223.6 53.6)" class="g">FLT3-ITD</text>
<text x="250.30" y="53.59" transform="rotate(.05 250.3 53.6)" class="v">16</text>
<text x="223.60" y="58.90" transform="rotate(.05 223.6 58.9)" class="g">NRAS</text>
<text x="250.30" y="58.90" transform="rotate(.05 250.3 58.9)" class="v">14</text>
<text x="223.60" y="64.20" transform="rotate(.05 223.6 64.2)" class="g">ASXL1</text>
<text x="250.30" y="64.20" transform="rotate(.05 250.3 64.2)" class="v">14</text>
<text x="223.60" y="69.52" transform="rotate(.05 223.6 69.5)" class="g">SRSF2</text>
<text x="250.30" y="69.52" transform="rotate(.05 250.3 69.5)" class="v">13</text>
<text x="223.60" y="74.83" transform="rotate(.05 223.6 74.8)" class="g">TP53</text>
<text x="250.30" y="74.83" transform="rotate(.05 250.3 74.8)" class="v">11</text>
<text x="223.60" y="80.14" transform="rotate(.05 223.6 80.1)" class="g">CEBPA</text>
<text x="250.30" y="80.14" transform="rotate(.05 250.3 80.1)" class="v">10</text>
<text x="223.60" y="85.45" transform="rotate(.05 223.6 85.4)" class="g">IDH2</text>
<text x="250.30" y="85.45" transform="rotate(.05 250.3 85.4)" class="v">9</text>
<text x="223.60" y="90.75" transform="rotate(.05 223.6 90.8)" class="g">RUNX1</text>
<text x="250.30" y="90.75" transform="rotate(.05 250.3 90.8)" class="v">9</text>
<text x="223.60" y="96.06" transform="rotate(.05 223.6 96.1)" class="g">KRAS</text>
<text x="250.30" y="96.06" transform="rotate(.05 250.3 96.1)" class="v">8</text>
<text x="223.60" y="101.38" transform="rotate(.05 223.6 101.4)" class="g">FLT3</text>
<text x="250.30" y="101.38" transform="rotate(.05 250.3 101.4)" class="v">8</text>
<text x="223.60" y="106.69" transform="rotate(.05 223.6 106.7)" class="g">WT1</text>
<text x="250.30" y="106.69" transform="rotate(.05 250.3 106.7)" class="v">7</text>
<text x="223.60" y="112.00" transform="rotate(.05 223.6 112.0)" class="g">PTPN11</text>
<text x="250.30" y="112.00" transform="rotate(.05 250.3 112.0)" class="v">6</text>
<text x="223.60" y="117.31" transform="rotate(.05 223.6 117.3)" class="g">IDH1</text>
<text x="250.30" y="117.31" transform="rotate(.05 250.3 117.3)" class="v">5</text>
<text x="223.60" y="122.62" transform="rotate(.05 223.6 122.6)" class="g">SF3B1</text>
<text x="250.30" y="122.62" transform="rotate(.05 250.3 122.6)" class="v">5</text>
<text x="223.60" y="127.93" transform="rotate(.05 223.6 127.9)" class="g">STAG2</text>
<text x="250.30" y="127.93" transform="rotate(.05 250.3 127.9)" class="v">5</text>
<text x="267.30" y="29.70" transform="rotate(.05 267.3 29.7)" class="h">s-AML</text>
<text x="254.00" y="36.98" transform="rotate(.05 254.0 37.0)" class="g">SRSF2</text>
<text x="280.70" y="36.98" transform="rotate(.05 280.7 37.0)" class="v w">44</text>
<text x="254.00" y="42.25" transform="rotate(.05 254.0 42.2)" class="g">ASXL1</text>
<text x="280.70" y="42.25" transform="rotate(.05 280.7 42.2)" class="v">31</text>
<text x="254.00" y="47.51" transform="rotate(.05 254.0 47.5)" class="g">SF3B1</text>
<text x="280.70" y="47.51" transform="rotate(.05 280.7 47.5)" class="v">31</text>
<text x="254.00" y="52.78" transform="rotate(.05 254.0 52.8)" class="g">RUNX1</text>
<text x="280.70" y="52.78" transform="rotate(.05 280.7 52.8)" class="v">31</text>
<text x="254.00" y="58.04" transform="rotate(.05 254.0 58.0)" class="g">TET2</text>
<text x="280.70" y="58.04" transform="rotate(.05 280.7 58.0)" class="v">25</text>
<text x="254.00" y="63.31" transform="rotate(.05 254.0 63.3)" class="g">NRAS</text>
<text x="280.70" y="63.31" transform="rotate(.05 280.7 63.3)" class="v">25</text>
<text x="254.00" y="68.57" transform="rotate(.05 254.0 68.6)" class="g">IDH2</text>
<text x="280.70" y="68.57" transform="rotate(.05 280.7 68.6)" class="v">19</text>
<text x="254.00" y="73.84" transform="rotate(.05 254.0 73.8)" class="g">FLT3</text>
<text x="280.70" y="73.84" transform="rotate(.05 280.7 73.8)" class="v">19</text>
<text x="254.00" y="79.10" transform="rotate(.05 254.0 79.1)" class="g">STAG2</text>
<text x="280.70" y="79.10" transform="rotate(.05 280.7 79.1)" class="v">13</text>
<text x="254.00" y="84.37" transform="rotate(.05 254.0 84.4)" class="g">TP53</text>
<text x="280.70" y="84.37" transform="rotate(.05 280.7 84.4)" class="v">13</text>
<text x="254.00" y="89.63" transform="rotate(.05 254.0 89.6)" class="g">DNMT3A</text>
<text x="280.70" y="89.63" transform="rotate(.05 280.7 89.6)" class="v">13</text>
<text x="254.00" y="94.90" transform="rotate(.05 254.0 94.9)" class="g">JAK2</text>
<text x="280.70" y="94.90" transform="rotate(.05 280.7 94.9)" class="v">13</text>
<text x="254.00" y="100.16" transform="rotate(.05 254.0 100.2)" class="g">KRAS</text>
<text x="280.70" y="100.16" transform="rotate(.05 280.7 100.2)" class="v">13</text>
<text x="254.00" y="105.43" transform="rotate(.05 254.0 105.4)" class="g">FLT3-ITD</text>
<text x="280.70" y="105.43" transform="rotate(.05 280.7 105.4)" class="v">13</text>
<text x="254.00" y="110.69" transform="rotate(.05 254.0 110.7)" class="g">EZH2</text>
<text x="280.70" y="110.69" transform="rotate(.05 280.7 110.7)" class="v">13</text>
<text x="254.00" y="115.96" transform="rotate(.05 254.0 116.0)" class="g">PTPN11</text>
<text x="280.70" y="115.96" transform="rotate(.05 280.7 116.0)" class="v">13</text>
<text x="254.00" y="121.22" transform="rotate(.05 254.0 121.2)" class="g">BCOR</text>
<text x="280.70" y="121.22" transform="rotate(.05 280.7 121.2)" class="v">13</text>
<text x="254.00" y="126.49" transform="rotate(.05 254.0 126.5)" class="g">GATA2</text>
<text x="280.70" y="126.49" transform="rotate(.05 280.7 126.5)" class="v">13</text>
<text x="254.00" y="131.75" transform="rotate(.05 254.0 131.8)" class="g">CUX1</text>
<text x="280.70" y="131.75" transform="rotate(.05 280.7 131.8)" class="v">13</text>
<text x="254.00" y="137.02" transform="rotate(.05 254.0 137.0)" class="g">NPM1</text>
<text x="280.70" y="137.02" transform="rotate(.05 280.7 137.0)" class="v">6</text>
<text x="254.00" y="142.28" transform="rotate(.05 254.0 142.3)" class="g">U2AF1</text>
<text x="280.70" y="142.28" transform="rotate(.05 280.7 142.3)" class="v">6</text>
<text x="298.40" y="29.70" transform="rotate(.05 298.4 29.7)" class="h">t-AML</text>
<text x="285.10" y="36.98" transform="rotate(.05 285.1 37.0)" class="g">KRAS</text>
<text x="311.80" y="36.98" transform="rotate(.05 311.8 37.0)" class="v">38</text>
<text x="285.10" y="42.25" transform="rotate(.05 285.1 42.2)" class="g">NRAS</text>
<text x="311.80" y="42.25" transform="rotate(.05 311.8 42.2)" class="v">13</text>
<text x="285.10" y="47.51" transform="rotate(.05 285.1 47.5)" class="g">CSF3R</text>
<text x="311.80" y="47.51" transform="rotate(.05 311.8 47.5)" class="v">13</text>
<text x="285.10" y="52.78" transform="rotate(.05 285.1 52.8)" class="g">TP53</text>
<text x="311.80" y="52.78" transform="rotate(.05 311.8 52.8)" class="v">6</text>
<text x="285.10" y="58.04" transform="rotate(.05 285.1 58.0)" class="g">RUNX1</text>
<text x="311.80" y="58.04" transform="rotate(.05 311.8 58.0)" class="v">6</text>
<text x="285.10" y="63.31" transform="rotate(.05 285.1 63.3)" class="g">PTPN11</text>
<text x="311.80" y="63.31" transform="rotate(.05 311.8 63.3)" class="v">6</text>
<text x="285.10" y="68.57" transform="rotate(.05 285.1 68.6)" class="g">WT1</text>
<text x="311.80" y="68.57" transform="rotate(.05 311.8 68.6)" class="v">6</text>
<text x="285.10" y="73.84" transform="rotate(.05 285.1 73.8)" class="g">BCOR</text>
<text x="311.80" y="73.84" transform="rotate(.05 311.8 73.8)" class="v">6</text>
<text x="285.10" y="79.10" transform="rotate(.05 285.1 79.1)" class="g">KIT</text>
<text x="311.80" y="79.10" transform="rotate(.05 311.8 79.1)" class="v">6</text>
<text x="285.10" y="84.37" transform="rotate(.05 285.1 84.4)" class="g">ASXL2</text>
<text x="311.80" y="84.37" transform="rotate(.05 311.8 84.4)" class="v">6</text>
<text x="285.10" y="89.63" transform="rotate(.05 285.1 89.6)" class="g">DIS3</text>
<text x="311.80" y="89.63" transform="rotate(.05 311.8 89.6)" class="v">6</text>
<text x="285.10" y="94.90" transform="rotate(.05 285.1 94.9)" class="g">LRP1B</text>
<text x="311.80" y="94.90" transform="rotate(.05 311.8 94.9)" class="v">6</text>
<text x="285.10" y="100.16" transform="rotate(.05 285.1 100.2)" class="g">IKZF1</text>
<text x="311.80" y="100.16" transform="rotate(.05 311.8 100.2)" class="v">6</text>
<text x="285.10" y="105.43" transform="rotate(.05 285.1 105.4)" class="g">SMC1A</text>
<text x="311.80" y="105.43" transform="rotate(.05 311.8 105.4)" class="v">6</text>
<text x="351.90" y="30.05" transform="rotate(.05 351.9 30.0)" class="h">ALAL</text>
<text x="338.60" y="37.66" transform="rotate(.05 338.6 37.7)" class="g">SRSF2</text>
<text x="365.30" y="37.66" transform="rotate(.05 365.3 37.7)" class="v w">41</text>
<text x="338.60" y="42.97" transform="rotate(.05 338.6 43.0)" class="g">TET2</text>
<text x="365.30" y="42.97" transform="rotate(.05 365.3 43.0)" class="v">38</text>
<text x="338.60" y="48.27" transform="rotate(.05 338.6 48.3)" class="g">RUNX1</text>
<text x="365.30" y="48.27" transform="rotate(.05 365.3 48.3)" class="v">38</text>
<text x="338.60" y="53.59" transform="rotate(.05 338.6 53.6)" class="g">ASXL1</text>
<text x="365.30" y="53.59" transform="rotate(.05 365.3 53.6)" class="v">29</text>
<text x="338.60" y="58.90" transform="rotate(.05 338.6 58.9)" class="g">BCOR</text>
<text x="365.30" y="58.90" transform="rotate(.05 365.3 58.9)" class="v">26</text>
<text x="338.60" y="64.20" transform="rotate(.05 338.6 64.2)" class="g">DNMT3A</text>
<text x="365.30" y="64.20" transform="rotate(.05 365.3 64.2)" class="v">13</text>
<text x="338.60" y="69.52" transform="rotate(.05 338.6 69.5)" class="g">KRAS</text>
<text x="365.30" y="69.52" transform="rotate(.05 365.3 69.5)" class="v">13</text>
<text x="338.60" y="74.83" transform="rotate(.05 338.6 74.8)" class="g">EZH2</text>
<text x="365.30" y="74.83" transform="rotate(.05 365.3 74.8)" class="v">13</text>
<text x="338.60" y="80.14" transform="rotate(.05 338.6 80.1)" class="g">STAG2</text>
<text x="365.30" y="80.14" transform="rotate(.05 365.3 80.1)" class="v">8</text>
<text x="338.60" y="85.45" transform="rotate(.05 338.6 85.4)" class="g">ZRSR2</text>
<text x="365.30" y="85.45" transform="rotate(.05 365.3 85.4)" class="v">8</text>
<text x="338.60" y="90.75" transform="rotate(.05 338.6 90.8)" class="g">GATA2</text>
<text x="365.30" y="90.75" transform="rotate(.05 365.3 90.8)" class="v">8</text>
<text x="382.40" y="29.70" transform="rotate(.05 382.4 29.7)" class="h">MPAL</text>
<text x="369.10" y="36.98" transform="rotate(.05 369.1 37.0)" class="g">TP53</text>
<text x="395.80" y="36.98" transform="rotate(.05 395.8 37.0)" class="v">33</text>
<text x="369.10" y="42.25" transform="rotate(.05 369.1 42.2)" class="g">DNMT3A</text>
<text x="395.80" y="42.25" transform="rotate(.05 395.8 42.2)" class="v">27</text>
<text x="369.10" y="47.51" transform="rotate(.05 369.1 47.5)" class="g">FLT3-ITD</text>
<text x="395.80" y="47.51" transform="rotate(.05 395.8 47.5)" class="v">17</text>
<text x="369.10" y="52.78" transform="rotate(.05 369.1 52.8)" class="g">NRAS</text>
<text x="395.80" y="52.78" transform="rotate(.05 395.8 52.8)" class="v">10</text>
<text x="369.10" y="58.04" transform="rotate(.05 369.1 58.0)" class="g">RUNX1</text>
<text x="395.80" y="58.04" transform="rotate(.05 395.8 58.0)" class="v">10</text>
<text x="369.10" y="63.31" transform="rotate(.05 369.1 63.3)" class="g">FLT3</text>
<text x="395.80" y="63.31" transform="rotate(.05 395.8 63.3)" class="v">10</text>
<text x="369.10" y="68.57" transform="rotate(.05 369.1 68.6)" class="g">WT1</text>
<text x="395.80" y="68.57" transform="rotate(.05 395.8 68.6)" class="v">10</text>
<text x="369.10" y="73.84" transform="rotate(.05 369.1 73.8)" class="g">NF1</text>
<text x="395.80" y="73.84" transform="rotate(.05 395.8 73.8)" class="v">7</text>
<text x="369.10" y="79.10" transform="rotate(.05 369.1 79.1)" class="g">TET2</text>
<text x="395.80" y="79.10" transform="rotate(.05 395.8 79.1)" class="v">7</text>
<text x="369.10" y="84.37" transform="rotate(.05 369.1 84.4)" class="g">KRAS</text>
<text x="395.80" y="84.37" transform="rotate(.05 395.8 84.4)" class="v">7</text>
<text x="369.10" y="89.63" transform="rotate(.05 369.1 89.6)" class="g">STAG2</text>
<text x="395.80" y="89.63" transform="rotate(.05 395.8 89.6)" class="v">7</text>
<text x="369.10" y="94.90" transform="rotate(.05 369.1 94.9)" class="g">PHF6</text>
<text x="395.80" y="94.90" transform="rotate(.05 395.8 94.9)" class="v">7</text>
<text x="435.60" y="29.70" transform="rotate(.05 435.6 29.7)" class="h">MGUS</text>
<text x="422.30" y="36.98" transform="rotate(.05 422.3 37.0)" class="g">KRAS</text>
<text x="449.00" y="36.98" transform="rotate(.05 449.0 37.0)" class="v">17</text>
<text x="422.30" y="42.25" transform="rotate(.05 422.3 42.2)" class="g">NRAS</text>
<text x="449.00" y="42.25" transform="rotate(.05 449.0 42.2)" class="v">8</text>
<text x="422.30" y="47.51" transform="rotate(.05 422.3 47.5)" class="g">TRAF3</text>
<text x="449.00" y="47.51" transform="rotate(.05 449.0 47.5)" class="v">8</text>
<text x="422.30" y="52.78" transform="rotate(.05 422.3 52.8)" class="g">ZFHX3</text>
<text x="449.00" y="52.78" transform="rotate(.05 449.0 52.8)" class="v">8</text>
<text x="466.40" y="29.70" transform="rotate(.05 466.4 29.7)" class="h">MM</text>
<text x="453.10" y="36.98" transform="rotate(.05 453.1 37.0)" class="g">KRAS</text>
<text x="479.80" y="36.98" transform="rotate(.05 479.8 37.0)" class="v">26</text>
<text x="453.10" y="42.25" transform="rotate(.05 453.1 42.2)" class="g">NRAS</text>
<text x="479.80" y="42.25" transform="rotate(.05 479.8 42.2)" class="v">21</text>
<text x="453.10" y="47.51" transform="rotate(.05 453.1 47.5)" class="g">DIS3</text>
<text x="479.80" y="47.51" transform="rotate(.05 479.8 47.5)" class="v">6</text>
<text x="453.10" y="52.78" transform="rotate(.05 453.1 52.8)" class="g">TP53</text>
<text x="479.80" y="52.78" transform="rotate(.05 479.8 52.8)" class="v">6</text>
<text x="19.80" y="180.05" transform="rotate(.05 19.8 180.0)" class="h">B-ALL</text>
<text x="6.50" y="187.66" transform="rotate(.05 6.5 187.7)" class="g">TP53</text>
<text x="33.20" y="187.66" transform="rotate(.05 33.2 187.7)" class="v">15</text>
<text x="6.50" y="192.97" transform="rotate(.05 6.5 193.0)" class="g">NRAS</text>
<text x="33.20" y="192.97" transform="rotate(.05 33.2 193.0)" class="v">10</text>
<text x="6.50" y="198.28" transform="rotate(.05 6.5 198.3)" class="g">KRAS</text>
<text x="33.20" y="198.28" transform="rotate(.05 33.2 198.3)" class="v">8</text>
<text x="6.50" y="203.59" transform="rotate(.05 6.5 203.6)" class="g">KMT2D</text>
<text x="33.20" y="203.59" transform="rotate(.05 33.2 203.6)" class="v">5</text>
<text x="6.50" y="208.90" transform="rotate(.05 6.5 208.9)" class="g">PTPN11</text>
<text x="33.20" y="208.90" transform="rotate(.05 33.2 208.9)" class="v">5</text>
<text x="51.30" y="179.70" transform="rotate(.05 51.3 179.7)" class="h">T-ALL</text>
<text x="38.00" y="186.98" transform="rotate(.05 38.0 187.0)" class="g">NOTCH1</text>
<text x="64.70" y="186.98" transform="rotate(.05 64.7 187.0)" class="v">30</text>
<text x="38.00" y="192.25" transform="rotate(.05 38.0 192.2)" class="g">PHF6</text>
<text x="64.70" y="192.25" transform="rotate(.05 64.7 192.2)" class="v">30</text>
<text x="38.00" y="197.51" transform="rotate(.05 38.0 197.5)" class="g">DNMT3A</text>
<text x="64.70" y="197.51" transform="rotate(.05 64.7 197.5)" class="v">13</text>
<text x="38.00" y="202.78" transform="rotate(.05 38.0 202.8)" class="g">WT1</text>
<text x="64.70" y="202.78" transform="rotate(.05 64.7 202.8)" class="v">12</text>
<text x="38.00" y="208.04" transform="rotate(.05 38.0 208.0)" class="g">RUNX1</text>
<text x="64.70" y="208.04" transform="rotate(.05 64.7 208.0)" class="v">11</text>
<text x="38.00" y="213.31" transform="rotate(.05 38.0 213.3)" class="g">BCOR</text>
<text x="64.70" y="213.31" transform="rotate(.05 64.7 213.3)" class="v">10</text>
<text x="38.00" y="218.57" transform="rotate(.05 38.0 218.6)" class="g">ASXL1</text>
<text x="64.70" y="218.57" transform="rotate(.05 64.7 218.6)" class="v">7</text>
<text x="38.00" y="223.84" transform="rotate(.05 38.0 223.8)" class="g">EZH2</text>
<text x="64.70" y="223.84" transform="rotate(.05 64.7 223.8)" class="v">5</text>
<text x="82.90" y="179.70" transform="rotate(.05 82.9 179.7)" class="h">T-NHL</text>
<text x="69.60" y="186.98" transform="rotate(.05 69.6 187.0)" class="g">STAT3</text>
<text x="96.30" y="186.98" transform="rotate(.05 96.3 187.0)" class="v w">50</text>
<text x="69.60" y="192.25" transform="rotate(.05 69.6 192.2)" class="g">TET2</text>
<text x="96.30" y="192.25" transform="rotate(.05 96.3 192.2)" class="v">9</text>
<text x="69.60" y="197.51" transform="rotate(.05 69.6 197.5)" class="g">DNMT3A</text>
<text x="96.30" y="197.51" transform="rotate(.05 96.3 197.5)" class="v">6</text>
<text x="69.60" y="202.78" transform="rotate(.05 69.6 202.8)" class="g">PHF6</text>
<text x="96.30" y="202.78" transform="rotate(.05 96.3 202.8)" class="v">6</text>
<text x="69.60" y="208.04" transform="rotate(.05 69.6 208.0)" class="g">LRP1B</text>
<text x="96.30" y="208.04" transform="rotate(.05 96.3 208.0)" class="v">6</text>
<text x="69.60" y="213.31" transform="rotate(.05 69.6 213.3)" class="g">CTCF</text>
<text x="96.30" y="213.31" transform="rotate(.05 96.3 213.3)" class="v">6</text>
<text x="69.60" y="218.57" transform="rotate(.05 69.6 218.6)" class="g">JAK1</text>
<text x="96.30" y="218.57" transform="rotate(.05 96.3 218.6)" class="v">6</text>
<text x="113.80" y="179.70" transform="rotate(.05 113.8 179.7)" class="h">NK</text>
<text x="100.50" y="186.98" transform="rotate(.05 100.5 187.0)" class="g">STAT3</text>
<text x="127.20" y="186.98" transform="rotate(.05 127.2 187.0)" class="v">23</text>
<text x="100.50" y="192.25" transform="rotate(.05 100.5 192.2)" class="g">TET2</text>
<text x="127.20" y="192.25" transform="rotate(.05 127.2 192.2)" class="v">13</text>
<text x="100.50" y="197.51" transform="rotate(.05 100.5 197.5)" class="g">ASXL1</text>
<text x="127.20" y="197.51" transform="rotate(.05 127.2 197.5)" class="v">5</text>
<text x="100.50" y="202.78" transform="rotate(.05 100.5 202.8)" class="g">KRAS</text>
<text x="127.20" y="202.78" transform="rotate(.05 127.2 202.8)" class="v">5</text>
<text x="100.50" y="208.04" transform="rotate(.05 100.5 208.0)" class="g">PPM1D</text>
<text x="127.20" y="208.04" transform="rotate(.05 127.2 208.0)" class="v">5</text>
<text x="100.50" y="213.31" transform="rotate(.05 100.5 213.3)" class="g">FAS</text>
<text x="127.20" y="213.31" transform="rotate(.05 127.2 213.3)" class="v">5</text>
<text x="145.00" y="179.70" transform="rotate(.05 145.0 179.7)" class="h">B-NHL</text>
<text x="131.70" y="186.98" transform="rotate(.05 131.7 187.0)" class="g">TP53</text>
<text x="158.40" y="186.98" transform="rotate(.05 158.4 187.0)" class="v w">50</text>
<text x="131.70" y="192.25" transform="rotate(.05 131.7 192.2)" class="g">MYD88</text>
<text x="158.40" y="192.25" transform="rotate(.05 158.4 192.2)" class="v">15</text>
<text x="131.70" y="197.51" transform="rotate(.05 131.7 197.5)" class="g">ARID1A</text>
<text x="158.40" y="197.51" transform="rotate(.05 158.4 197.5)" class="v">13</text>
<text x="131.70" y="202.78" transform="rotate(.05 131.7 202.8)" class="g">CXCR4</text>
<text x="158.40" y="202.78" transform="rotate(.05 158.4 202.8)" class="v">13</text>
<text x="131.70" y="208.04" transform="rotate(.05 131.7 208.0)" class="g">BIRC3</text>
<text x="158.40" y="208.04" transform="rotate(.05 158.4 208.0)" class="v">10</text>
<text x="131.70" y="213.31" transform="rotate(.05 131.7 213.3)" class="g">DNMT3A</text>
<text x="158.40" y="213.31" transform="rotate(.05 158.4 213.3)" class="v">7</text>
<text x="131.70" y="218.57" transform="rotate(.05 131.7 218.6)" class="g">KLF2</text>
<text x="158.40" y="218.57" transform="rotate(.05 158.4 218.6)" class="v">7</text>
<text x="175.40" y="180.05" transform="rotate(.05 175.4 180.0)" class="h">BL</text>
<text x="162.10" y="187.66" transform="rotate(.05 162.1 187.7)" class="g">TP53</text>
<text x="188.80" y="187.66" transform="rotate(.05 188.8 187.7)" class="v w">40</text>
<text x="162.10" y="192.97" transform="rotate(.05 162.1 193.0)" class="g">MYC</text>
<text x="188.80" y="192.97" transform="rotate(.05 188.8 193.0)" class="v">30</text>
<text x="162.10" y="198.28" transform="rotate(.05 162.1 198.3)" class="g">ID3</text>
<text x="188.80" y="198.28" transform="rotate(.05 188.8 198.3)" class="v">30</text>
<text x="162.10" y="203.59" transform="rotate(.05 162.1 203.6)" class="g">KMT2D</text>
<text x="188.80" y="203.59" transform="rotate(.05 188.8 203.6)" class="v">20</text>
<text x="162.10" y="208.90" transform="rotate(.05 162.1 208.9)" class="g">CCND3</text>
<text x="188.80" y="208.90" transform="rotate(.05 188.8 208.9)" class="v">15</text>
<text x="162.10" y="214.21" transform="rotate(.05 162.1 214.2)" class="g">MYD88</text>
<text x="188.80" y="214.21" transform="rotate(.05 188.8 214.2)" class="v">10</text>
<text x="162.10" y="219.52" transform="rotate(.05 162.1 219.5)" class="g">CREBBP</text>
<text x="188.80" y="219.52" transform="rotate(.05 188.8 219.5)" class="v">10</text>
<text x="162.10" y="224.83" transform="rotate(.05 162.1 224.8)" class="g">BCL2</text>
<text x="188.80" y="224.83" transform="rotate(.05 188.8 224.8)" class="v">10</text>
<text x="162.10" y="230.14" transform="rotate(.05 162.1 230.1)" class="g">FOXO1</text>
<text x="188.80" y="230.14" transform="rotate(.05 188.8 230.1)" class="v">10</text>
<text x="162.10" y="235.20" transform="rotate(.05 162.1 235.2)" class="g" style="font-size:2.55px">SMARCA4</text>
<text x="188.80" y="235.45" transform="rotate(.05 188.8 235.4)" class="v">10</text>
<text x="162.10" y="240.76" transform="rotate(.05 162.1 240.8)" class="g">ASXL1</text>
<text x="188.80" y="240.76" transform="rotate(.05 188.8 240.8)" class="v">5</text>
<text x="162.10" y="246.07" transform="rotate(.05 162.1 246.1)" class="g">NRAS</text>
<text x="188.80" y="246.07" transform="rotate(.05 188.8 246.1)" class="v">5</text>
<text x="162.10" y="251.38" transform="rotate(.05 162.1 251.4)" class="g">U2AF1</text>
<text x="188.80" y="251.38" transform="rotate(.05 188.8 251.4)" class="v">5</text>
<text x="162.10" y="256.69" transform="rotate(.05 162.1 256.7)" class="g">BCOR</text>
<text x="188.80" y="256.69" transform="rotate(.05 188.8 256.7)" class="v">5</text>
<text x="162.10" y="261.99" transform="rotate(.05 162.1 262.0)" class="g">ARID1A</text>
<text x="188.80" y="261.99" transform="rotate(.05 188.8 262.0)" class="v">5</text>
<text x="162.10" y="267.30" transform="rotate(.05 162.1 267.3)" class="g">XPO1</text>
<text x="188.80" y="267.30" transform="rotate(.05 188.8 267.3)" class="v">5</text>
<text x="162.10" y="272.61" transform="rotate(.05 162.1 272.6)" class="g">RB1</text>
<text x="188.80" y="272.61" transform="rotate(.05 188.8 272.6)" class="v">5</text>
<text x="162.10" y="277.92" transform="rotate(.05 162.1 277.9)" class="g">CARD11</text>
<text x="188.80" y="277.92" transform="rotate(.05 188.8 277.9)" class="v">5</text>
<text x="162.10" y="283.23" transform="rotate(.05 162.1 283.2)" class="g">CDKN2A</text>
<text x="188.80" y="283.23" transform="rotate(.05 188.8 283.2)" class="v">5</text>
<text x="162.10" y="288.54" transform="rotate(.05 162.1 288.5)" class="g">KLHL6</text>
<text x="188.80" y="288.54" transform="rotate(.05 188.8 288.5)" class="v">5</text>
<text x="205.90" y="180.05" transform="rotate(.05 205.9 180.0)" class="h">CLL</text>
<text x="192.60" y="187.66" transform="rotate(.05 192.6 187.7)" class="g">TP53</text>
<text x="219.30" y="187.66" transform="rotate(.05 219.3 187.7)" class="v">13</text>
<text x="192.60" y="192.97" transform="rotate(.05 192.6 193.0)" class="g">NOTCH1</text>
<text x="219.30" y="192.97" transform="rotate(.05 219.3 193.0)" class="v">12</text>
<text x="192.60" y="198.28" transform="rotate(.05 192.6 198.3)" class="g">SF3B1</text>
<text x="219.30" y="198.28" transform="rotate(.05 219.3 198.3)" class="v">11</text>
<text x="192.60" y="203.59" transform="rotate(.05 192.6 203.6)" class="g">MYD88</text>
<text x="219.30" y="203.59" transform="rotate(.05 219.3 203.6)" class="v">7</text>
<text x="192.60" y="208.90" transform="rotate(.05 192.6 208.9)" class="g">ATM</text>
<text x="219.30" y="208.90" transform="rotate(.05 219.3 208.9)" class="v">7</text>
<text x="192.60" y="214.21" transform="rotate(.05 192.6 214.2)" class="g">BIRC3</text>
<text x="219.30" y="214.21" transform="rotate(.05 219.3 214.2)" class="v">5</text>
<text x="236.90" y="180.05" transform="rotate(.05 236.9 180.0)" class="h">FL</text>
<text x="223.60" y="187.66" transform="rotate(.05 223.6 187.7)" class="g">KMT2D</text>
<text x="250.30" y="187.66" transform="rotate(.05 250.3 187.7)" class="v w">81</text>
<text x="223.60" y="192.97" transform="rotate(.05 223.6 193.0)" class="g">CREBBP</text>
<text x="250.30" y="192.97" transform="rotate(.05 250.3 193.0)" class="v w">53</text>
<text x="223.60" y="198.28" transform="rotate(.05 223.6 198.3)" class="g">ARID1A</text>
<text x="250.30" y="198.28" transform="rotate(.05 250.3 198.3)" class="v">25</text>
<text x="223.60" y="203.59" transform="rotate(.05 223.6 203.6)" class="g">BCL2</text>
<text x="250.30" y="203.59" transform="rotate(.05 250.3 203.6)" class="v">13</text>
<text x="223.60" y="208.90" transform="rotate(.05 223.6 208.9)" class="g">EZH2</text>
<text x="250.30" y="208.90" transform="rotate(.05 250.3 208.9)" class="v">11</text>
<text x="223.60" y="213.96" transform="rotate(.05 223.6 214.0)" class="g" style="font-size:2.55px">TNFRSF14</text>
<text x="250.30" y="214.21" transform="rotate(.05 250.3 214.2)" class="v">11</text>
<text x="223.60" y="219.52" transform="rotate(.05 223.6 219.5)" class="g">EP300</text>
<text x="250.30" y="219.52" transform="rotate(.05 250.3 219.5)" class="v">8</text>
<text x="223.60" y="224.83" transform="rotate(.05 223.6 224.8)" class="g">TP53</text>
<text x="250.30" y="224.83" transform="rotate(.05 250.3 224.8)" class="v">6</text>
<text x="223.60" y="230.14" transform="rotate(.05 223.6 230.1)" class="g">CARD11</text>
<text x="250.30" y="230.14" transform="rotate(.05 250.3 230.1)" class="v">5</text>
<text x="223.60" y="235.45" transform="rotate(.05 223.6 235.4)" class="g">CD79A</text>
<text x="250.30" y="235.45" transform="rotate(.05 250.3 235.4)" class="v">5</text>
<text x="267.40" y="180.05" transform="rotate(.05 267.4 180.0)" class="h">MCL</text>
<text x="254.10" y="187.66" transform="rotate(.05 254.1 187.7)" class="g">TP53</text>
<text x="280.80" y="187.66" transform="rotate(.05 280.8 187.7)" class="v">24</text>
<text x="254.10" y="192.97" transform="rotate(.05 254.1 193.0)" class="g">ATM</text>
<text x="280.80" y="192.97" transform="rotate(.05 280.8 193.0)" class="v">18</text>
<text x="254.10" y="198.28" transform="rotate(.05 254.1 198.3)" class="g">CCND1</text>
<text x="280.80" y="198.28" transform="rotate(.05 280.8 198.3)" class="v">18</text>
<text x="254.10" y="203.59" transform="rotate(.05 254.1 203.6)" class="g">WHSC1</text>
<text x="280.80" y="203.59" transform="rotate(.05 280.8 203.6)" class="v">12</text>
<text x="254.10" y="208.90" transform="rotate(.05 254.1 208.9)" class="g">DNMT3A</text>
<text x="280.80" y="208.90" transform="rotate(.05 280.8 208.9)" class="v">6</text>
<text x="254.10" y="214.21" transform="rotate(.05 254.1 214.2)" class="g">KMT2D</text>
<text x="280.80" y="214.21" transform="rotate(.05 280.8 214.2)" class="v">6</text>
<text x="254.10" y="219.52" transform="rotate(.05 254.1 219.5)" class="g">CREBBP</text>
<text x="280.80" y="219.52" transform="rotate(.05 280.8 219.5)" class="v">6</text>
<text x="254.10" y="224.83" transform="rotate(.05 254.1 224.8)" class="g">NOTCH1</text>
<text x="280.80" y="224.83" transform="rotate(.05 280.8 224.8)" class="v">6</text>
<text x="254.10" y="230.14" transform="rotate(.05 254.1 230.1)" class="g">ETV6</text>
<text x="280.80" y="230.14" transform="rotate(.05 280.8 230.1)" class="v">6</text>
<text x="254.10" y="235.45" transform="rotate(.05 254.1 235.4)" class="g">BIRC3</text>
<text x="280.80" y="235.45" transform="rotate(.05 280.8 235.4)" class="v">6</text>
<text x="254.10" y="240.76" transform="rotate(.05 254.1 240.8)" class="g">DIS3</text>
<text x="280.80" y="240.76" transform="rotate(.05 280.8 240.8)" class="v">6</text>
<text x="254.10" y="246.07" transform="rotate(.05 254.1 246.1)" class="g">RB1</text>
<text x="280.80" y="246.07" transform="rotate(.05 280.8 246.1)" class="v">6</text>
<text x="254.10" y="251.38" transform="rotate(.05 254.1 251.4)" class="g">LRP1B</text>
<text x="280.80" y="251.38" transform="rotate(.05 280.8 251.4)" class="v">6</text>
<text x="254.10" y="256.69" transform="rotate(.05 254.1 256.7)" class="g">NFKBIE</text>
<text x="280.80" y="256.69" transform="rotate(.05 280.8 256.7)" class="v">6</text>
<text x="254.10" y="261.99" transform="rotate(.05 254.1 262.0)" class="g">NOTCH2</text>
<text x="280.80" y="261.99" transform="rotate(.05 280.8 262.0)" class="v">6</text>
<text x="254.10" y="267.30" transform="rotate(.05 254.1 267.3)" class="g">FOXO1</text>
<text x="280.80" y="267.30" transform="rotate(.05 280.8 267.3)" class="v">6</text>
<text x="298.50" y="180.05" transform="rotate(.05 298.5 180.0)" class="h">LPL</text>
<text x="285.20" y="187.66" transform="rotate(.05 285.2 187.7)" class="g">MYD88</text>
<text x="311.90" y="187.66" transform="rotate(.05 311.9 187.7)" class="v w">98</text>
<text x="285.20" y="192.97" transform="rotate(.05 285.2 193.0)" class="g">CXCR4</text>
<text x="311.90" y="192.97" transform="rotate(.05 311.9 193.0)" class="v w">51</text>
<text x="285.20" y="198.28" transform="rotate(.05 285.2 198.3)" class="g">ARID1A</text>
<text x="311.90" y="198.28" transform="rotate(.05 311.9 198.3)" class="v">20</text>
<text x="285.20" y="203.59" transform="rotate(.05 285.2 203.6)" class="g">DNMT3A</text>
<text x="311.90" y="203.59" transform="rotate(.05 311.9 203.6)" class="v">11</text>
<text x="285.20" y="208.90" transform="rotate(.05 285.2 208.9)" class="g">TET2</text>
<text x="311.90" y="208.90" transform="rotate(.05 311.9 208.9)" class="v">9</text>
<text x="285.20" y="214.21" transform="rotate(.05 285.2 214.2)" class="g">TP53</text>
<text x="311.90" y="214.21" transform="rotate(.05 311.9 214.2)" class="v">9</text>
<text x="285.20" y="219.52" transform="rotate(.05 285.2 219.5)" class="g">CD79B</text>
<text x="311.90" y="219.52" transform="rotate(.05 311.9 219.5)" class="v">5</text>
<text x="329.70" y="179.88" transform="rotate(.05 329.7 179.9)" class="h">HCL</text>
<text x="316.40" y="187.32" transform="rotate(.05 316.4 187.3)" class="g">BRAF</text>
<text x="343.10" y="187.32" transform="rotate(.05 343.1 187.3)" class="v w">100</text>
<text x="316.40" y="192.61" transform="rotate(.05 316.4 192.6)" class="g">ARID1A</text>
<text x="343.10" y="192.61" transform="rotate(.05 343.1 192.6)" class="v">7</text>
<text x="360.90" y="180.05" transform="rotate(.05 360.9 180.0)" class="h">HCL-v</text>
<text x="347.60" y="187.66" transform="rotate(.05 347.6 187.7)" class="g">BIRC3</text>
<text x="374.30" y="187.66" transform="rotate(.05 374.3 187.7)" class="v">23</text>
<text x="347.60" y="192.97" transform="rotate(.05 347.6 193.0)" class="g">TP53</text>
<text x="374.30" y="192.97" transform="rotate(.05 374.3 193.0)" class="v">12</text>
<text x="347.60" y="198.28" transform="rotate(.05 347.6 198.3)" class="g">TET2</text>
<text x="374.30" y="198.28" transform="rotate(.05 374.3 198.3)" class="v">9</text>
<text x="347.60" y="203.59" transform="rotate(.05 347.6 203.6)" class="g">BCOR</text>
<text x="374.30" y="203.59" transform="rotate(.05 374.3 203.6)" class="v">9</text>
<text x="347.60" y="208.90" transform="rotate(.05 347.6 208.9)" class="g">CXCR4</text>
<text x="374.30" y="208.90" transform="rotate(.05 374.3 208.9)" class="v">9</text>
<text x="347.60" y="214.21" transform="rotate(.05 347.6 214.2)" class="g">ASXL1</text>
<text x="374.30" y="214.21" transform="rotate(.05 374.3 214.2)" class="v">7</text>
<text x="347.60" y="219.52" transform="rotate(.05 347.6 219.5)" class="g">DNMT3A</text>
<text x="374.30" y="219.52" transform="rotate(.05 374.3 219.5)" class="v">7</text>
<text x="347.60" y="224.83" transform="rotate(.05 347.6 224.8)" class="g">ARID1A</text>
<text x="374.30" y="224.83" transform="rotate(.05 374.3 224.8)" class="v">7</text>
<text x="347.60" y="230.14" transform="rotate(.05 347.6 230.1)" class="g">ATM</text>
<text x="374.30" y="230.14" transform="rotate(.05 374.3 230.1)" class="v">7</text>
<text x="347.60" y="235.45" transform="rotate(.05 347.6 235.4)" class="g">MAP2K1</text>
<text x="374.30" y="235.45" transform="rotate(.05 374.3 235.4)" class="v">7</text>
<text x="347.60" y="240.76" transform="rotate(.05 347.6 240.8)" class="g">KRAS</text>
<text x="374.30" y="240.76" transform="rotate(.05 374.3 240.8)" class="v">5</text>
<text x="347.60" y="246.07" transform="rotate(.05 347.6 246.1)" class="g">BCORL1</text>
<text x="374.30" y="246.07" transform="rotate(.05 374.3 246.1)" class="v">5</text>
<text x="347.60" y="251.38" transform="rotate(.05 347.6 251.4)" class="g">ZBTB7A</text>
<text x="374.30" y="251.38" transform="rotate(.05 374.3 251.4)" class="v">5</text>
<text x="347.60" y="256.69" transform="rotate(.05 347.6 256.7)" class="g">NOTCH2</text>
<text x="374.30" y="256.69" transform="rotate(.05 374.3 256.7)" class="v">5</text>
<text x="418.50" y="180.05" transform="rotate(.05 418.5 180.0)" class="h">BPDCN</text>
<text x="405.20" y="187.66" transform="rotate(.05 405.2 187.7)" class="g">TET2</text>
<text x="431.90" y="187.66" transform="rotate(.05 431.9 187.7)" class="v w">47</text>
<text x="405.20" y="192.97" transform="rotate(.05 405.2 193.0)" class="g">ASXL1</text>
<text x="431.90" y="192.97" transform="rotate(.05 431.9 193.0)" class="v">27</text>
<text x="405.20" y="198.28" transform="rotate(.05 405.2 198.3)" class="g">SRSF2</text>
<text x="431.90" y="198.28" transform="rotate(.05 431.9 198.3)" class="v">27</text>
<text x="405.20" y="203.59" transform="rotate(.05 405.2 203.6)" class="g">U2AF1</text>
<text x="431.90" y="203.59" transform="rotate(.05 431.9 203.6)" class="v">13</text>
<text x="405.20" y="208.90" transform="rotate(.05 405.2 208.9)" class="g">ZRSR2</text>
<text x="431.90" y="208.90" transform="rotate(.05 431.9 208.9)" class="v">13</text>
<text x="405.20" y="214.21" transform="rotate(.05 405.2 214.2)" class="g">TP53</text>
<text x="431.90" y="214.21" transform="rotate(.05 431.9 214.2)" class="v">7</text>
<text x="405.20" y="219.52" transform="rotate(.05 405.2 219.5)" class="g">DNMT3A</text>
<text x="431.90" y="219.52" transform="rotate(.05 431.9 219.5)" class="v">7</text>
<text x="405.20" y="224.83" transform="rotate(.05 405.2 224.8)" class="g">NRAS</text>
<text x="431.90" y="224.83" transform="rotate(.05 431.9 224.8)" class="v">7</text>
<text x="405.20" y="230.14" transform="rotate(.05 405.2 230.1)" class="g">RUNX1</text>
<text x="431.90" y="230.14" transform="rotate(.05 431.9 230.1)" class="v">7</text>
<text x="405.20" y="235.45" transform="rotate(.05 405.2 235.4)" class="g">PTPN11</text>
<text x="431.90" y="235.45" transform="rotate(.05 431.9 235.4)" class="v">7</text>
<text x="405.20" y="240.76" transform="rotate(.05 405.2 240.8)" class="g">ATM</text>
<text x="431.90" y="240.76" transform="rotate(.05 431.9 240.8)" class="v">7</text>
<text x="405.20" y="246.07" transform="rotate(.05 405.2 246.1)" class="g">PHF6</text>
<text x="431.90" y="246.07" transform="rotate(.05 431.9 246.1)" class="v">7</text>
<text x="405.20" y="251.38" transform="rotate(.05 405.2 251.4)" class="g">CUX1</text>
<text x="431.90" y="251.38" transform="rotate(.05 431.9 251.4)" class="v">7</text>
<text x="405.20" y="256.69" transform="rotate(.05 405.2 256.7)" class="g">DIS3</text>
<text x="431.90" y="256.69" transform="rotate(.05 431.9 256.7)" class="v">7</text>
<text x="405.20" y="261.99" transform="rotate(.05 405.2 262.0)" class="g">KDM6A</text>
<text x="431.90" y="261.99" transform="rotate(.05 431.9 262.0)" class="v">7</text>
<text x="405.20" y="267.30" transform="rotate(.05 405.2 267.3)" class="g">XPO1</text>
<text x="431.90" y="267.30" transform="rotate(.05 431.9 267.3)" class="v">7</text>
<text x="405.20" y="272.61" transform="rotate(.05 405.2 272.6)" class="g">RB1</text>
<text x="431.90" y="272.61" transform="rotate(.05 431.9 272.6)" class="v">7</text>
<text x="405.20" y="277.92" transform="rotate(.05 405.2 277.9)" class="g">KDM5A</text>
<text x="431.90" y="277.92" transform="rotate(.05 431.9 277.9)" class="v">7</text>
<text x="448.80" y="179.70" transform="rotate(.05 448.8 179.7)" class="h">PPBL</text>
<text x="435.50" y="186.98" transform="rotate(.05 435.5 187.0)" class="g">DNMT3A</text>
<text x="462.20" y="186.98" transform="rotate(.05 462.2 187.0)" class="v">10</text>
<text x="498.50" y="114.09" transform="rotate(.05 498.5 114.1)" class="l">0%, n.a.</text>
<text x="498.50" y="120.17" transform="rotate(.05 498.5 120.2)" class="l">1-5%</text>
<text x="498.50" y="126.25" transform="rotate(.05 498.5 126.2)" class="l">5-10%</text>
<text x="498.50" y="132.33" transform="rotate(.05 498.5 132.3)" class="l">10-15%</text>
<text x="498.50" y="138.41" transform="rotate(.05 498.5 138.4)" class="l">15-20%</text>
<text x="498.50" y="144.49" transform="rotate(.05 498.5 144.5)" class="l">20-25%</text>
<text x="498.50" y="150.57" transform="rotate(.05 498.5 150.6)" class="l">25-30%</text>
<text x="498.50" y="156.65" transform="rotate(.05 498.5 156.7)" class="l">30-35%</text>
<text x="498.50" y="162.73" transform="rotate(.05 498.5 162.7)" class="l">35-40%</text>
<text x="498.50" y="168.81" transform="rotate(.05 498.5 168.8)" class="l">40-45%</text>
<text x="498.50" y="174.89" transform="rotate(.05 498.5 174.9)" class="l w">45-50%</text>
<text x="498.50" y="180.97" transform="rotate(.05 498.5 181.0)" class="l w">&gt;50%</text>
</svg>
</body></html>
